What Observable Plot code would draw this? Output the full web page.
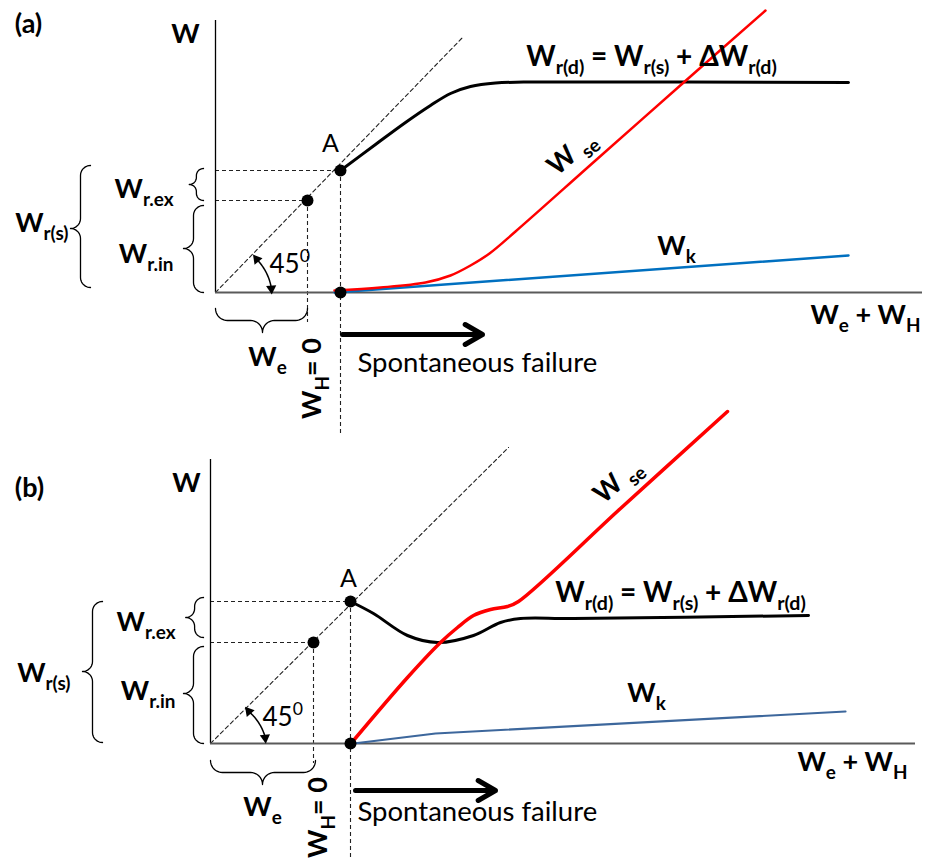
<!DOCTYPE html>
<html><head><meta charset="utf-8">
<script src="https://cdn.jsdelivr.net/npm/d3@7"></script>
<script src="https://cdn.jsdelivr.net/npm/@observablehq/plot@0.6"></script>
<style>
html,body{margin:0;padding:0;background:#fff;}
#chart{width:930px;}
#chart svg{display:block;}
</style></head><body><div id="chart"></div>
<script>
// ===== Panel (a): values (x = We + WH, y = W, arbitrary units) =====
const aWrdX = [12.5, 16.0, 19.0, 21.5, 23.5, 25.5, 28.0, 32.0, 63.3];
const aWrdY = [12.2, 14.8, 17.0, 18.7, 19.9, 20.6, 20.95, 21.05, 21.0];
const aWseX = [11.9, 16.5, 21.0, 23.5, 25.5, 27.4, 30.0, 38.0, 46.7, 55.0];
const aWseY = [0.2, 0.5, 1.0, 1.7, 2.7, 3.9, 6.1, 13.2, 20.9, 28.2];
const aWkX = [11.9, 63.3];
const aWkY = [0.0, 3.7];
const aPointX = [9.2, 12.5, 12.5];      // Wr.in point, A, failure onset
const aPointY = [9.2, 12.2, 0.0];
const aDropTo = [-3.0, -14.1, null];    // lower end of the dashed drop lines
const aDiag = [24.8, 25.6];
const aAxisEnd = [70.7, 27.2];          // x-axis end, y-axis top
const aBraceFrom = [0.5, 9.2, 0.0, 0.0];
const aBraceTo   = [12.7, 12.4, 8.7, 9.2];
const aBraceTip  = [6.4, 10.8, 4.4, 4.7];
const aBraceEdge = [-12.5, -1.2, -1.2, -1.6];
const aBraceDir  = ["v", "v", "v", "h"];
const aArrow = [12.7, 26.7, -4.2];      // x1, x2, y
const aAngle = [42, 1, 5.3, 5.6];       // arc from angle, to angle, radius from, to
const aLabels = [
  {t: "(a)", x: -18.7, y: 26.8, k: "panel"},
  {t: "W", x: -3.0, y: 25.85, k: "sym"},
  {t: "A", x: 11.5, y: 14.9, k: "plain"},
  {t: "W_{r(s)}", x: -14.7, y: 6.9, k: "symEnd"},
  {t: "W_{r.ex}", x: -4.2, y: 10.3, k: "symEnd"},
  {t: "W_{r.in}", x: -4.2, y: 3.8, k: "symEnd"},
  {t: "45^{0}", x: 5.4, y: 2.8, k: "angle"},
  {t: "W_{e}", x: 5.2, y: -6.5, k: "sym"},
  {t: "W_{H}= 0", x: 9.7, y: -8.6, k: "sym", rot: -90},
  {t: "Spontaneous failure", x: 14.2, y: -7.1, k: "plainStart"},
  {t: "W_{e} + W_{H}", x: 70.5, y: -2.3, k: "symEnd"},
  {t: "W _{se}", x: 35.6, y: 14.0, k: "sym", rot: -41},
  {t: "W_{k}", x: 46.1, y: 4.6, k: "sym"},
  {t: "W_{r(d)} = W_{r(s)} + ΔW_{r(d)}", x: 43.6, y: 23.5, k: "eq"}
];

// ===== Panel (b) =====
const bWrdX = [14.0, 16.3, 19.7, 22.7, 26.3, 29.0, 31.0, 36.3, 59.8];
const bWrdY = [14.2, 13.0, 10.8, 10.1, 10.8, 12.1, 12.5, 12.5, 12.8];
const bWseX = [14.3, 19.7, 23.0, 24.7, 26.3, 28.0, 29.7, 30.8, 41.0, 51.7];
const bWseY = [0.3, 6.6, 10.1, 11.6, 12.8, 13.4, 13.7, 14.2, 23.5, 33.2];
const bWkX = [14.3, 22.5, 63.5];
const bWkY = [0.0, 1.0, 3.2];
const bPointX = [10.3, 14.0, 14.0];
const bPointY = [10.1, 14.2, 0.0];
const bDropTo = [-2.0, -11.6, null];
const bDiag = [29.8, 29.6];
const bAxisEnd = [70.5, 28.4];
const bBraceFrom = [0.1, 10.6, 0.0, 0.0];
const bBraceTo   = [14.2, 14.6, 9.7, 10.5];
const bBraceTip  = [7.2, 12.6, 5.0, 5.2];
const bBraceEdge = [-10.8, -0.7, -0.7, -1.7];
const bBraceDir  = ["v", "v", "v", "h"];
const bArrow = [14.5, 28.5, -4.7];
const bAngle = [43, 3, 5.0, 5.5];
const bLabels = [
  {t: "(b)", x: -18.1, y: 25.5, k: "panel"},
  {t: "W", x: -2.4, y: 26.0, k: "sym"},
  {t: "A", x: 13.8, y: 16.5, k: "plain"},
  {t: "W_{r(s)}", x: -14.0, y: 7.0, k: "symEnd"},
  {t: "W_{r.ex}", x: -3.5, y: 12.1, k: "symEnd"},
  {t: "W_{r.in}", x: -3.5, y: 5.2, k: "symEnd"},
  {t: "45^{0}", x: 5.2, y: 2.6, k: "angle"},
  {t: "W_{e}", x: 5.2, y: -6.4, k: "sym"},
  {t: "W_{H}= 0", x: 10.8, y: -7.4, k: "sym", rot: -90},
  {t: "Spontaneous failure", x: 14.7, y: -6.9, k: "plainStart"},
  {t: "W_{e} + W_{H}", x: 69.7, y: -1.9, k: "symEnd"},
  {t: "W _{se}", x: 40.7, y: 26.3, k: "sym", rot: -42},
  {t: "W_{k}", x: 43.6, y: 5.0, k: "sym"},
  {t: "W_{r(d)} = W_{r(s)} + ΔW_{r(d)}", x: 47.0, y: 15.0, k: "eq"}
];

// ===== drawing =====
const FONT = "Lato, 'Open Sans', sans-serif";
const STYLE = {
  panel: {size: 27, bold: true, anchor: "middle"},
  sym: {size: 27, bold: true, anchor: "middle"},
  symEnd: {size: 27, bold: true, anchor: "end"},
  eq: {size: 28, bold: true, anchor: "middle"},
  plain: {size: 25, bold: false, anchor: "middle"},
  angle: {size: 26, bold: false, anchor: "start"},
  plainStart: {size: 27.5, bold: false, anchor: "start"}
};

const zip = (xs, ys) => xs.map((x, i) => ({x, y: ys[i]}));

function bracePoints(a, b, m, e, dir, r) {
  const pts = [];
  const N = 10;
  const arc = (f) => { for (let k = 0; k <= N; k++) { const t = (k / N) * Math.PI / 2; pts.push(f(t)); } };
  arc(t => [a + r - r * Math.cos(t), e - r * Math.sin(t)]);
  arc(t => [m - r + r * Math.sin(t), e - 2 * r + r * Math.cos(t)]);
  arc(t => [m + r - r * Math.cos(t), e - 2 * r + r * Math.sin(t)]);
  arc(t => [b - r + r * Math.sin(t), e - r * Math.cos(t)]);
  return pts.map(([u, v]) => dir === "v" ? {x: v, y: u} : {x: u, y: v});
}

function panel(p) {
  const dash = {stroke: "#222", strokeWidth: 1.1, strokeDasharray: "4,3"};
  const pts = zip(p.pointX, p.pointY);
  const marks = [];
  // 45° line and dashed guides
  marks.push(Plot.line([{x: 0, y: 0}, {x: p.diag[0], y: p.diag[1]}], {x: "x", y: "y", ...dash}));
  marks.push(Plot.ruleY(pts.slice(0, 2), {y: "y", x1: 0, x2: "x", ...dash}));
  marks.push(Plot.ruleX(pts.slice(0, 2).map((d, i) => ({...d, lo: p.dropTo[i]})), {x: "x", y1: "y", y2: "lo", ...dash}));
  // axes
  marks.push(Plot.ruleX([0], {y1: 0, y2: p.axisEnd[1], stroke: "#000", strokeWidth: 1.3}));
  marks.push(Plot.ruleY([0], {x1: 0, x2: p.axisEnd[0], stroke: "#5a5a5a", strokeWidth: 2.2}));
  // curves
  marks.push(Plot.line(zip(p.wkX, p.wkY), {x: "x", y: "y", stroke: p.wkColor, strokeWidth: p.wkWidth}));
  marks.push(Plot.line(zip(p.wrdX, p.wrdY), {x: "x", y: "y", stroke: "#000", strokeWidth: 3, curve: "catmull-rom"}));
  marks.push(Plot.line(zip(p.wseX, p.wseY), {x: "x", y: "y", stroke: "#ff0000", strokeWidth: p.wseWidth, curve: "catmull-rom"}));
  marks.push(Plot.dot(pts, {x: "x", y: "y", r: 6, fill: "#000"}));
  // 45° arc with two arrow heads
  const [g0, g1, r0, r1] = p.angle;
  const arc = [];
  const s0 = g0 - 4, s1 = g1 + 4;
  for (let k = 0; k <= 24; k++) {
    const f = k / 24, g = (s0 + (s1 - s0) * f) * Math.PI / 180, r = r0 + (r1 - r0) * f;
    arc.push({x: r * Math.cos(g), y: r * Math.sin(g)});
  }
  marks.push(Plot.line(arc, {x: "x", y: "y", stroke: "#000", strokeWidth: 1.5}));
  const h0 = (g0 - 3) * Math.PI / 180, h1 = (g1 + 3) * Math.PI / 180;
  marks.push(Plot.dot([
    {x: r0 * Math.cos(h0), y: r0 * Math.sin(h0), rot: -(g0 - 3)},
    {x: r1 * Math.cos(h1), y: r1 * Math.sin(h1), rot: 180 - (g1 + 3)}
  ], {x: "x", y: "y", symbol: "triangle", r: 3.8, fill: "#000", rotate: "rot"}));
  // braces
  p.braceFrom.forEach((a, i) => {
    const span = Math.abs(p.braceTo[i] - a);
    const r = p.braceDir[i] === "h" ? 1.2 : Math.min(1.0, span / 4.5);
    marks.push(Plot.line(bracePoints(a, p.braceTo[i], p.braceTip[i], p.braceEdge[i], p.braceDir[i], r),
      {x: "x", y: "y", stroke: "#000", strokeWidth: 1.3}));
  });
  // failure arrow
  marks.push(Plot.arrow([{x1: p.arrow[0], x2: p.arrow[1], y: p.arrow[2]}],
    {x1: "x1", x2: "x2", y1: "y", y2: "y", stroke: "#000", strokeWidth: 5, headLength: 6}));
  // labels
  p.labels.forEach(l => {
    const s = STYLE[l.k];
    marks.push(Plot.text([l], {x: "x", y: "y", text: "t", fontSize: s.size, fontWeight: s.bold ? "bold" : "normal",
      textAnchor: s.anchor, rotate: l.rot || 0, fill: "#000", fontFamily: FONT}));
  });
  return Plot.plot({
    width: 930, height: p.height,
    marginTop: 0, marginRight: 0, marginBottom: 0, marginLeft: 0,
    x: {domain: p.xDomain, axis: null},
    y: {domain: p.yDomain, axis: null},
    style: {fontFamily: FONT, background: "#fff", overflow: "visible"},
    marks
  });
}

function richText(svg) {
  svg.querySelectorAll("text").forEach(t => {
    const s = t.textContent;
    if (!/[_^]\{/.test(s)) return;
    const fs = parseFloat(getComputedStyle(t).fontSize) || 24;
    const parts = s.split(/([_^]\{[^}]*\})/).filter(x => x !== "");
    while (t.firstChild) t.removeChild(t.firstChild);
    let cur = 0;
    parts.forEach(part => {
      const ts = document.createElementNS("http://www.w3.org/2000/svg", "tspan");
      let target = 0, txt = part;
      if (part.startsWith("_{")) { target = 0.28 * fs; txt = part.slice(2, -1); ts.setAttribute("font-size", (0.7 * fs) + "px"); }
      else if (part.startsWith("^{")) { target = -0.42 * fs; txt = part.slice(2, -1); ts.setAttribute("font-size", (0.68 * fs) + "px"); }
      if (target !== cur) ts.setAttribute("dy", (target - cur) + "px");
      cur = target;
      ts.textContent = txt;
      t.appendChild(ts);
    });
  });
}

const chart = document.getElementById("chart");
const svgA = panel({
  height: 440, xDomain: [-21.5, 71.5], yDomain: [-14.8, 29.2],
  wrdX: aWrdX, wrdY: aWrdY, wseX: aWseX, wseY: aWseY, wkX: aWkX, wkY: aWkY,
  wkColor: "#0070c0", wkWidth: 2.5, wseWidth: 2.5,
  pointX: aPointX, pointY: aPointY, dropTo: aDropTo, diag: aDiag, axisEnd: aAxisEnd,
  braceFrom: aBraceFrom, braceTo: aBraceTo, braceTip: aBraceTip, braceEdge: aBraceEdge, braceDir: aBraceDir,
  arrow: aArrow, angle: aAngle, labels: aLabels
});
const svgB = panel({
  height: 419, xDomain: [-21.0, 72.0], yDomain: [-11.6, 30.3],
  wrdX: bWrdX, wrdY: bWrdY, wseX: bWseX, wseY: bWseY, wkX: bWkX, wkY: bWkY,
  wkColor: "#3d679c", wkWidth: 2.2, wseWidth: 3.5,
  pointX: bPointX, pointY: bPointY, dropTo: bDropTo, diag: bDiag, axisEnd: bAxisEnd,
  braceFrom: bBraceFrom, braceTo: bBraceTo, braceTip: bBraceTip, braceEdge: bBraceEdge, braceDir: bBraceDir,
  arrow: bArrow, angle: bAngle, labels: bLabels
});
chart.appendChild(svgA);
chart.appendChild(svgB);
richText(svgA);
richText(svgB);
</script>
</body></html>
